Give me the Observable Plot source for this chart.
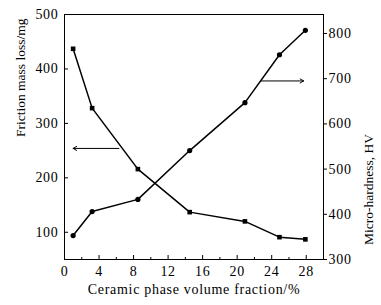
<!DOCTYPE html>
<html><head><meta charset="utf-8">
<script src="https://cdn.jsdelivr.net/npm/d3@7"></script>
<script src="https://cdn.jsdelivr.net/npm/@observablehq/plot@0.6"></script>
<style>body{margin:0;background:#fff}</style>
</head><body><div id="chart"></div>
<script>
const fraction = [1, 3.2, 8.5, 14.5, 20.9, 24.9, 27.9];
const massLoss = [437, 328, 216, 137, 120, 91, 87];
const hardness = [353, 406, 433, 541, 647, 753, 807];
const xTicks = [0, 4, 8, 12, 16, 20, 24, 28];
const xMinor = [2, 6, 10, 14, 18, 22, 26];
const leftTicks = [100, 200, 300, 400, 500];
const rightTicks = [300, 400, 500, 600, 700, 800];
const xDomain = [0, 30];
const leftDomain = [50, 500];
const rightDomain = [300, 842];
// annotation arrows (data units): [x1, x2, value]
const lossArrow = [6.3, 1.0, 254];
const hardArrow = [22.8, 27.7, 695];

const toLeft = v => leftDomain[0] + (v - rightDomain[0]) * (leftDomain[1] - leftDomain[0]) / (rightDomain[1] - rightDomain[0]);
const fromLeft = v => rightDomain[0] + (v - leftDomain[0]) * (rightDomain[1] - rightDomain[0]) / (leftDomain[1] - leftDomain[0]);

const lossData = fraction.map((x, i) => ({x, y: massLoss[i]}));
const hardData = fraction.map((x, i) => ({x, y: toLeft(hardness[i])}));

const chart = Plot.plot({
  width: 381, height: 305,
  marginLeft: 64, marginRight: 58, marginTop: 14, marginBottom: 46,
  style: {fontFamily: "'Liberation Serif', 'Times New Roman', serif", fontSize: "14px", color: "#000", background: "#fff", letterSpacing: "0.7px"},
  x: {domain: xDomain, axis: null},
  y: {domain: leftDomain, axis: null},
  marks: [
    Plot.frame({stroke: "#000", strokeWidth: 1}),
    Plot.axisX({ticks: xTicks, label: null, tickSize: -4, tickPadding: 11, tickFormat: d => String(d), fontSize: 14}),
    Plot.axisX({ticks: xMinor, label: null, tickSize: -2, tickFormat: () => ""}),
    Plot.axisY({ticks: leftTicks, label: null, tickSize: -4, tickPadding: 10, tickFormat: d => String(d), fontSize: 14}),
    Plot.axisY({anchor: "right", label: null, ticks: rightTicks.map(toLeft), tickSize: 3, tickPadding: 2, tickFormat: d => String(Math.round(fromLeft(d))), fontSize: 14}),
    Plot.line(lossData, {x: "x", y: "y", stroke: "#000", strokeWidth: 1.5}),
    Plot.dot(lossData, {x: "x", y: "y", symbol: "square", r: 2.6, fill: "#000"}),
    Plot.line(hardData, {x: "x", y: "y", stroke: "#000", strokeWidth: 1.5}),
    Plot.dot(hardData, {x: "x", y: "y", symbol: "circle", r: 2.6, fill: "#000"}),
    Plot.arrow([lossArrow], {x1: d => d[0], x2: d => d[1], y1: d => d[2], y2: d => d[2], stroke: "#000", strokeWidth: 1, headLength: 6}),
    Plot.arrow([hardArrow], {x1: d => d[0], x2: d => d[1], y1: d => toLeft(d[2]), y2: d => toLeft(d[2]), stroke: "#000", strokeWidth: 1, headLength: 6}),
    Plot.text(["Ceramic phase volume fraction/%"], {frameAnchor: "bottom", dy: 34, fontSize: 14, fill: "#000"}),
    Plot.text(["Friction mass loss/mg"], {frameAnchor: "left", dx: -44, rotate: -90, fontSize: 13.5, fill: "#000"}),
    Plot.text(["Micro-hardness, HV"], {frameAnchor: "right", dx: 45, dy: -3, rotate: -90, fontSize: 13.5, fill: "#000"})
  ]
});
chart.querySelectorAll("text").forEach(t => {
  if ((t.getAttribute("transform") || "").includes("rotate")) t.style.letterSpacing = "0";
});
document.getElementById("chart").appendChild(chart);
</script>
</body></html>
